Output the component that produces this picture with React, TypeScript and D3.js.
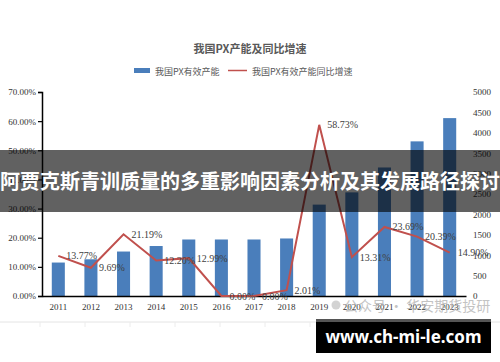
import { useEffect, useRef } from "react"
import * as d3 from "d3"

const years = ["2011", "2012", "2013", "2014", "2015", "2016", "2017", "2018", "2019", "2020", "2021", "2022", "2023"]
const capacity = [820, 900, 1090, 1225, 1385, 1385, 1385, 1410, 2240, 2540, 3150, 3790, 4360]
const growth = [13.77, 9.69, 21.19, 12.2, 12.99, 0, 0, 2.01, 58.73, 13.31, 23.69, 20.39, 14.9]
const leftTicks = [0, 10, 20, 30, 40, 50, 60, 70]
const rightTicks = [0, 500, 1000, 1500, 2000, 2500, 3000, 3500, 4000, 4500, 5000]

const title = "我国PX产能及同比增速"
const barName = "我国PX有效产能"
const lineName = "我国PX有效产能同比增速"
const banner = "阿贾克斯青训质量的多重影响因素分析及其发展路径探讨"
const site = "www.ch-mi-le.com"

const W = 500
const H = 362
const serif = "'Liberation Serif', 'DejaVu Serif', serif"
const cjk = "'Noto Sans CJK SC', sans-serif"

export default function App() {
  const ref = useRef<SVGSVGElement>(null)

  useEffect(() => {
    const svg = d3.select(ref.current)
    svg.selectAll("*").remove()

    const left = 42, right = 466, top = 92, bottom = 296

    const x = d3.scaleBand().domain(years).range([left, right]).paddingInner(0.6).paddingOuter(0.3)
    const yL = d3.scaleLinear().domain([0, 70]).range([bottom, top])
    const yR = d3.scaleLinear().domain([0, 5000]).range([bottom, top])
    const cx = (d: string) => (x(d) as number) + x.bandwidth() / 2

    svg.append("rect").attr("width", W).attr("height", H).attr("fill", "#fff")

    // title + legend
    svg.append("text").attr("x", 250).attr("y", 53).attr("text-anchor", "middle")
      .attr("font-family", cjk).attr("font-size", 11).attr("font-weight", 700).attr("fill", "#595959")
      .text(title)
    svg.append("rect").attr("x", 134).attr("y", 68).attr("width", 16).attr("height", 5).attr("fill", "#4a7ebb")
    svg.append("text").attr("x", 155).attr("y", 74.5).attr("font-family", cjk).attr("font-size", 9)
      .attr("fill", "#595959").text(barName)
    svg.append("line").attr("x1", 228).attr("x2", 247).attr("y1", 70.5).attr("y2", 70.5)
      .attr("stroke", "#c0504d").attr("stroke-width", 1.5)
    svg.append("text").attr("x", 252).attr("y", 74.5).attr("font-family", cjk).attr("font-size", 9)
      .attr("fill", "#595959").text(lineName)

    // bars
    svg.append("g").selectAll("rect").data(capacity).join("rect")
      .attr("x", (_, i) => x(years[i]) as number)
      .attr("y", d => yR(d))
      .attr("width", x.bandwidth())
      .attr("height", d => bottom - yR(d))
      .attr("fill", "#4a7ebb")

    // left axis
    const gl = svg.append("g").attr("transform", `translate(${left},0)`)
      .call(d3.axisLeft(yL).tickValues(leftTicks).tickSize(4).tickFormat(d => (+d).toFixed(2) + "%"))
    gl.select(".domain").attr("stroke", "#000").attr("stroke-width", 1.5)
    gl.selectAll(".tick line").attr("stroke", "#000").attr("stroke-width", 1.2)
    gl.selectAll("text").attr("font-family", serif).attr("font-size", 9).attr("fill", "#333").attr("x", -6)

    // right axis
    const gr = svg.append("g").attr("transform", `translate(${right + 6},0)`)
      .call(d3.axisRight(yR).tickValues(rightTicks).tickSize(0).tickFormat(d3.format("d")))
    gr.select(".domain").remove()
    gr.selectAll("text").attr("font-family", serif).attr("font-size", 9).attr("fill", "#333").attr("x", 1)

    // bottom axis
    const gb = svg.append("g").attr("transform", `translate(0,${bottom})`)
      .call(d3.axisBottom(x).tickSize(0).tickPadding(8))
    gb.select(".domain").attr("stroke", "#000").attr("stroke-width", 1.5)
    gb.selectAll("text").attr("font-family", serif).attr("font-size", 9).attr("fill", "#333")

    // line
    const line = d3.line<number>().x((_, i) => cx(years[i])).y(d => yL(d))
    svg.append("path").datum(growth).attr("d", line).attr("fill", "none")
      .attr("stroke", "#c0504d").attr("stroke-width", 2)

    svg.append("g").selectAll("text").data(growth).join("text")
      .attr("x", (_, i) => cx(years[i]) + 8)
      .attr("y", d => yL(d) + 3.5)
      .attr("font-family", serif).attr("font-size", 10).attr("fill", "#404040")
      .text(d => d.toFixed(2) + "%")

    // watermark
    svg.append("circle").attr("cx", 336).attr("cy", 305).attr("r", 4.5).attr("fill", "#c8c8c8").attr("opacity", 0.8)
    svg.append("text").attr("x", 344).attr("y", 311).attr("font-family", cjk).attr("font-size", 14)
      .attr("fill", "#b0b0b0").attr("opacity", 0.75).text("公众号 · 华安期货投研")

    // faint rule under the chart
    svg.append("line").attr("x1", 0).attr("x2", W).attr("y1", 322).attr("y2", 322).attr("stroke", "#e4e4e4")
    svg.append("g").selectAll("line").data(d3.range(40, 320, 45)).join("line")
      .attr("x1", d => d).attr("x2", d => d).attr("y1", 322).attr("y2", 327).attr("stroke", "#ececec")

    // banner
    svg.append("rect").attr("x", 0).attr("y", 150).attr("width", W).attr("height", 62)
      .attr("fill", "#000").attr("opacity", 0.62)
    svg.append("text").attr("x", 250).attr("y", 189).attr("text-anchor", "middle")
      .attr("font-family", cjk).attr("font-size", 20).attr("font-weight", 700).attr("fill", "#fff")
      .text(banner)

    // site box
    svg.append("rect").attr("x", 316).attr("y", 319).attr("width", 175).attr("height", 34).attr("fill", "#000")
    svg.append("rect").attr("x", 316).attr("y", 319).attr("width", 175).attr("height", 3).attr("fill", "#555")
    svg.append("text").attr("x", 403.5).attr("y", 343).attr("text-anchor", "middle")
      .attr("font-family", "'Noto Sans', 'DejaVu Sans', sans-serif").attr("font-size", 17).attr("font-weight", 700)
      .attr("fill", "#fff").text(site)
  }, [])

  return (
    <div style={{ position: "absolute", left: 0, top: 0 }}>
      <svg ref={ref} width={W} height={H} style={{ display: "block" }} />
    </div>
  )
}
